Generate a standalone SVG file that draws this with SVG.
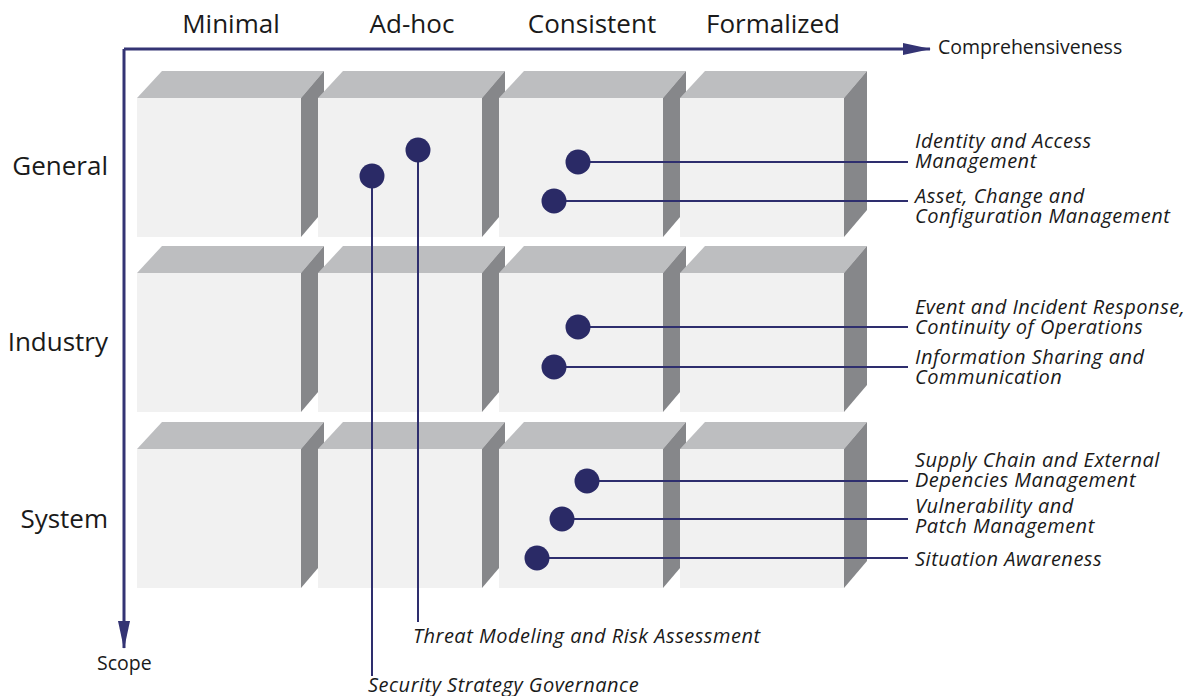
<svg xmlns="http://www.w3.org/2000/svg" xmlns:xlink="http://www.w3.org/1999/xlink" width="1190" height="696" viewBox="0 0 1190 696">
<style>
.front{fill:#f1f1f1}
.top{fill:#bdbec0}
.side{fill:#86878a}
.hdr{font-family:"Open Sans","Liberation Sans",sans-serif;font-size:26px;fill:#1a1a1a}
.row{font-family:"Open Sans","Liberation Sans",sans-serif;font-size:26px;fill:#1a1a1a;text-anchor:end}
.axl{font-family:"Open Sans","Liberation Sans",sans-serif;font-size:19.5px;fill:#1a1a1a}
.lbl{font-family:"Open Sans","Liberation Sans",sans-serif;font-size:20px;font-style:italic;letter-spacing:0.5px;fill:#1a1a1a}
.dot{fill:#2a2a66}
.ln{stroke:#2e2e6e;stroke-width:2;fill:none}
.axis{stroke:#343474;stroke-width:3;fill:none}
</style>
<defs>
<g id="cube">
<rect class="front" x="0" y="0" width="164" height="139"/>
<polygon class="top" points="0,0 25,-27 187,-27 164,0"/>
<polygon class="side" points="164,0 187,-27 187,112 164,139"/>
</g>
<marker id="arr" markerWidth="28" markerHeight="14" refX="27" refY="7" orient="auto" markerUnits="userSpaceOnUse">
<polygon points="0,1 28,7 0,13" fill="#343474"/>
</marker>
</defs>
<rect width="1190" height="696" fill="#ffffff"/>

<g id="grid">
<use xlink:href="#cube" x="137" y="98"/>
<use xlink:href="#cube" x="318" y="98"/>
<use xlink:href="#cube" x="499" y="98"/>
<use xlink:href="#cube" x="680" y="98"/>
<use xlink:href="#cube" x="137" y="273"/>
<use xlink:href="#cube" x="318" y="273"/>
<use xlink:href="#cube" x="499" y="273"/>
<use xlink:href="#cube" x="680" y="273"/>
<use xlink:href="#cube" x="137" y="449"/>
<use xlink:href="#cube" x="318" y="449"/>
<use xlink:href="#cube" x="499" y="449"/>
<use xlink:href="#cube" x="680" y="449"/>
</g>

<g id="axes">
<path class="axis" d="M124,49 H930" marker-end="url(#arr)"/>
<path class="axis" d="M124,49 V648" marker-end="url(#arr)"/>
<text class="axl" x="938" y="54">Comprehensiveness</text>
<text class="axl" x="97" y="670">Scope</text>
</g>

<g id="headers">
<text class="hdr" x="231" y="33" text-anchor="middle">Minimal</text>
<text class="hdr" x="412" y="33" text-anchor="middle">Ad-hoc</text>
<text class="hdr" x="592" y="33" text-anchor="middle">Consistent</text>
<text class="hdr" x="773" y="33" text-anchor="middle">Formalized</text>
<text class="row" x="108" y="175">General</text>
<text class="row" x="108" y="351">Industry</text>
<text class="row" x="108" y="528">System</text>
</g>

<g id="connectors">
<path class="ln" d="M578,162 H908"/>
<path class="ln" d="M554,201 H908"/>
<path class="ln" d="M578,327 H908"/>
<path class="ln" d="M554,367 H908"/>
<path class="ln" d="M587,481 H908"/>
<path class="ln" d="M562,519 H908"/>
<path class="ln" d="M537,558 H908"/>
<path class="ln" d="M418,150 V622"/>
<path class="ln" d="M372,176 V676"/>
</g>

<g id="n-iam"><circle class="dot" cx="578" cy="162" r="12.5"/><text class="lbl" x="915" y="148">Identity and Access<tspan x="915" dy="20">Management</tspan></text></g>
<g id="n-asset"><circle class="dot" cx="554" cy="201" r="12.5"/><text class="lbl" x="915" y="203">Asset, Change and<tspan x="915" dy="20">Configuration Management</tspan></text></g>
<g id="n-event"><circle class="dot" cx="578" cy="327" r="12.5"/><text class="lbl" x="915" y="314">Event and Incident Response,<tspan x="915" dy="20">Continuity of Operations</tspan></text></g>
<g id="n-info"><circle class="dot" cx="554" cy="367" r="12.5"/><text class="lbl" x="915" y="364">Information Sharing and<tspan x="915" dy="20">Communication</tspan></text></g>
<g id="n-supply"><circle class="dot" cx="587" cy="481" r="12.5"/><text class="lbl" x="915" y="467">Supply Chain and External<tspan x="915" dy="20">Depencies Management</tspan></text></g>
<g id="n-vuln"><circle class="dot" cx="562" cy="519" r="12.5"/><text class="lbl" x="915" y="513">Vulnerability and<tspan x="915" dy="20">Patch Management</tspan></text></g>
<g id="n-situation"><circle class="dot" cx="537" cy="558" r="12.5"/><text class="lbl" x="915" y="566">Situation Awareness</text></g>
<g id="n-threat"><circle class="dot" cx="418" cy="150" r="12.5"/><text class="lbl" x="413" y="643">Threat Modeling and Risk Assessment</text></g>
<g id="n-security"><circle class="dot" cx="372" cy="176" r="12.5"/><text class="lbl" x="368" y="692">Security Strategy Governance</text></g>
</svg>
